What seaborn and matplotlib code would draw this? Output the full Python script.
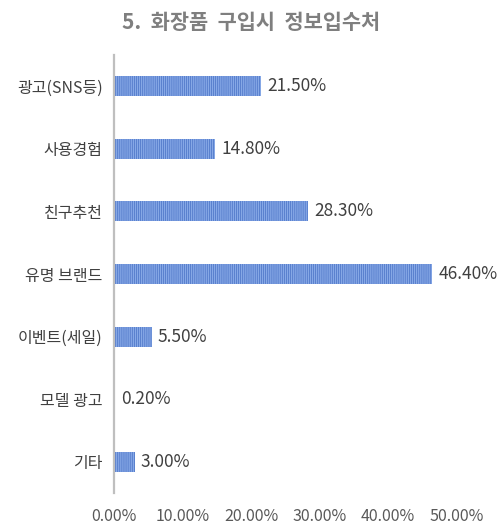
import pandas as pd
import matplotlib.pyplot as plt
import seaborn as sns

# -------------------------
# Data
# -------------------------
categories = ['광고(SNS등)', '사용경험', '친구추천', '유명 브랜드', '이벤트(세일)', '모델 광고', '기타']
values = [21.5, 14.8, 28.3, 46.4, 5.5, 0.2, 3.0]
xticks = [0, 10, 20, 30, 40, 50]
title = '5.  화장품  구입시  정보입수처'

df = pd.DataFrame({'source': categories, 'pct': values})

sns.set_style('white')
plt.rcParams['font.family'] = ['Noto Sans CJK KR', 'DejaVu Sans']
plt.rcParams['hatch.linewidth'] = 0.5
plt.rcParams['hatch.color'] = '#4870C4'

fig = plt.figure(figsize=(5.02, 5.29), dpi=100)
ax = fig.add_axes([0.227, 0.068, 0.683, 0.828])

sns.barplot(data=df, y='source', x='pct', orient='h', color='#86A8E6',
            width=0.32, ax=ax, saturation=1)
for p in ax.patches:
    p.set_hatch('||||||||')
    p.set_edgecolor('#4870C4')
    p.set_linewidth(0)

# value labels
for i, v in enumerate(values):
    ax.text(v + 0.9, i, f'{v:.2f}%', va='center', ha='left',
            fontsize=12.5, color='#404040')

ax.set_xlim(0, 50)
ax.set_ylim(6.5, -0.5)
ax.set_xticks(xticks)
ax.set_xticklabels([f'{t:.2f}%' for t in xticks], fontsize=11.5, color='#595959')
ax.tick_params(axis='y', labelsize=11.5, colors='#404040', length=0, pad=8)
ax.tick_params(axis='x', length=0, pad=11)
ax.set_xlabel('')
ax.set_ylabel('')

for s in ['top', 'right', 'bottom']:
    ax.spines[s].set_visible(False)
ax.spines['left'].set_color('#BFBFBF')
ax.spines['left'].set_linewidth(1.6)

fig.text(0.5, 0.957, title, ha='center', va='center', fontsize=15,
         fontweight='bold', color='#7F7F7F')

plt.savefig('out.png', dpi=100)
